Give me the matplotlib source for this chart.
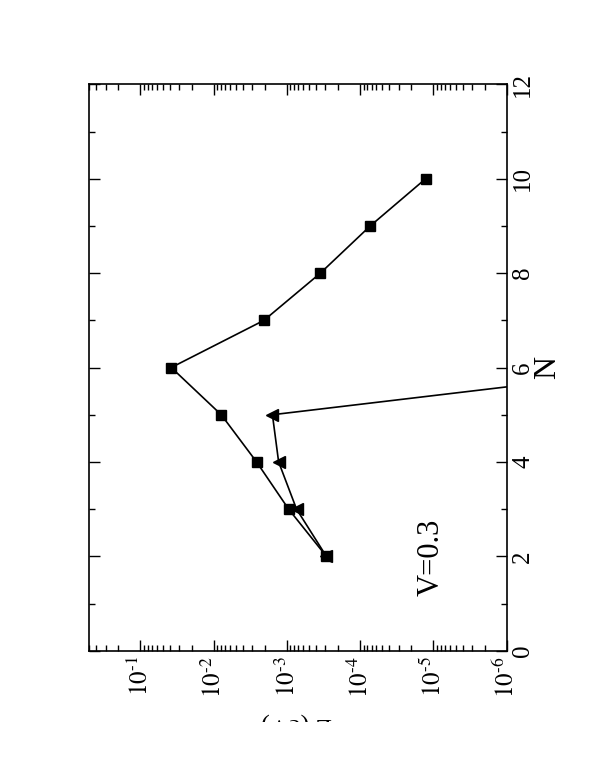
import numpy as np
import matplotlib
matplotlib.use("Agg")
import matplotlib.pyplot as plt
from matplotlib.patches import Rectangle
from matplotlib.ticker import LogLocator, MultipleLocator, NullFormatter

plt.rcParams["font.family"] = ["Liberation Serif", "DejaVu Serif"]
plt.rcParams["mathtext.fontset"] = "stix"

# data (N on the vertical axis, the log quantity along the bottom)
n_sq = [2, 3, 4, 5, 6, 7, 8, 9, 10]
val_sq = [2.9e-4, 9.5e-4, 2.6e-3, 7.9e-3, 3.8e-2, 2.06e-3, 3.5e-4, 7.3e-5, 1.28e-5]

n_tri = [2, 3, 4, 5, 6]
val_tri = [2.9e-4, 7.4e-4, 1.3e-3, 1.58e-3, 6e-9]

xtick_vals = [1e-1, 1e-2, 1e-3, 1e-4, 1e-5, 1e-6]
xtick_labels = [r"$10^{\text{-}1}$", r"$10^{\text{-}2}$", r"$10^{\text{-}3}$",
                r"$10^{\text{-}4}$", r"$10^{\text{-}5}$", r"$10^{\text{-}6}$"]
ytick_vals = [0, 2, 4, 6, 8, 10, 12]

fig = plt.figure(figsize=(5.96, 7.71), dpi=100)
ax = fig.add_axes([0.1498, 0.156, 0.7004, 0.7346])

ax.plot(val_tri, n_tri, "-", color="black", lw=1.2, marker="<", ms=8)
ax.plot(val_sq, n_sq, "-", color="black", lw=1.2, marker="s", ms=7.5)

ax.set_xscale("log")
ax.set_xlim(0.5, 1e-6)
ax.set_ylim(0, 12)

ax.set_xticks(xtick_vals, labels=xtick_labels)
ax.xaxis.set_minor_locator(LogLocator(base=10, subs=np.arange(2, 10), numticks=20))
ax.xaxis.set_minor_formatter(NullFormatter())
ax.set_yticks(ytick_vals)
ax.yaxis.set_minor_locator(MultipleLocator(1))

ax.tick_params(which="both", direction="in", top=True, bottom=True, left=True, right=True,
               labelleft=False, labelright=True, width=1.0)
ax.tick_params(which="major", length=8)
ax.tick_params(which="minor", length=4.5)
ax.tick_params(axis="x", labelsize=18, labelrotation=90, pad=4)
ax.tick_params(axis="y", labelsize=18, labelrotation=90, pad=4)
for lab in ax.get_yticklabels():
    lab.set_verticalalignment("center")
for s in ax.spines.values():
    s.set_linewidth(1.2)

ax.yaxis.set_label_position("right")
ax.set_ylabel("N", fontsize=23, rotation=90, labelpad=-1)

# axis title, printed upside down and cut off by the page edge
fig.text(297 / 596, 1 - 712 / 771, "E (eV)", fontsize=19, rotation=180,
         ha="center", va="top")

ax.text(0.818, 0.165, "V=0.3", transform=ax.transAxes, fontsize=22, rotation=90,
        ha="center", va="center")

# the bottom of the page is cut off in the original
fig.patches.append(Rectangle((0, 0), 1, 0.0636, transform=fig.transFigure,
                             facecolor="white", edgecolor="none", zorder=10))

fig.savefig("out.png", dpi=100)
